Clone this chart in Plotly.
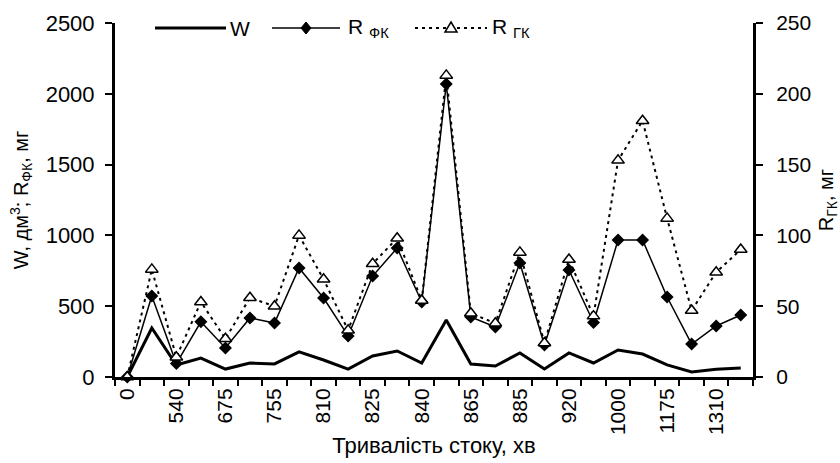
import plotly.graph_objects as go

# Category labels (time, min); only every other one is labelled in the reference
categories = ["0", "480", "540", "610", "675", "720", "755", "785", "810", "815",
              "825", "830", "840", "850", "865", "875", "885", "900", "920", "960",
              "1000", "1090", "1175", "1240", "1310", "1380"]
W_values = [0, 346, 85, 134, 56, 99, 92, 177, 120, 56, 148, 184, 99, 403, 92, 78,
            170, 56, 170, 99, 191, 162, 85, 35, 55, 64]
R_fk_values = [0, 572, 95, 390, 205, 417, 381, 770, 558, 290, 713, 911, 530, 2069,
               424, 353, 805, 226, 756, 385, 967, 967, 565, 233, 360, 438]
R_gk_values = [0, 76, 14, 53, 27, 56, 50, 100, 69, 33, 80, 98, 54, 213, 45, 38,
               88, 24, 83, 43, 153, 181, 112, 47, 74, 90]
series_names = ["W", "R <sub>ФК</sub>", "R <sub>ГК</sub>"]
x_title = "Тривалість стоку, хв"
y_title = "W, дм<sup>3</sup>; R<sub>ФК</sub>, мг"
y2_title = "R<sub>ГК</sub>, мг"

idx = list(range(len(categories)))
FONT = "Liberation Sans, Arial, sans-serif"
W_PX, H_PX = 840, 463
ML, MR, MT, MB = 115, 87, 23, 86
PW, PH = W_PX - ML - MR, H_PX - MT - MB

fig = go.Figure()
fig.add_trace(go.Scatter(x=idx, y=W_values, name=series_names[0], mode="lines",
                         line=dict(color="black", width=3), cliponaxis=False))
fig.add_trace(go.Scatter(x=idx, y=R_fk_values, name=series_names[1], mode="lines+markers",
                         line=dict(color="black", width=1.5),
                         marker=dict(symbol="diamond", size=10, color="black"),
                         cliponaxis=False))
fig.add_trace(go.Scatter(x=idx, y=R_gk_values, name=series_names[2], mode="lines+markers",
                         yaxis="y2",
                         line=dict(color="black", width=2, dash="3px,4px"),
                         marker=dict(symbol="triangle-up", size=11, color="white",
                                     line=dict(color="black", width=1.5)),
                         cliponaxis=False))


# ---- custom legend (drawn in paper coordinates) ----
def px(x):
    return (x - ML) / PW


def py(y):
    return (H_PX - MB - y) / PH


LY = 28
shapes = []
annotations = []
legend_items = [
    # (line x0, line x1, marker, text x, line style)
    (155, 226, None, 228, dict(color="black", width=3)),
    (272, 340, "diamond", 346, dict(color="black", width=1.5)),
    (415, 487, "triangle", 490, dict(color="black", width=2, dash="3px,4px")),
]
for (x0, x1, mk, tx, ln), name in zip(legend_items, series_names):
    shapes.append(dict(type="line", xref="paper", yref="paper",
                       x0=px(x0), x1=px(x1), y0=py(LY), y1=py(LY), line=ln, layer="above"))
    cx = (x0 + x1) / 2
    if mk == "diamond":
        pts = [(cx, LY - 6), (cx + 5, LY), (cx, LY + 6), (cx - 5, LY)]
        path = "M " + " L ".join(f"{px(a)},{py(b)}" for a, b in pts) + " Z"
        shapes.append(dict(type="path", xref="paper", yref="paper", path=path,
                           fillcolor="black", line=dict(color="black", width=1), layer="above"))
    elif mk == "triangle":
        pts = [(cx, LY - 6), (cx + 6, LY + 4), (cx - 6, LY + 4)]
        path = "M " + " L ".join(f"{px(a)},{py(b)}" for a, b in pts) + " Z"
        shapes.append(dict(type="path", xref="paper", yref="paper", path=path,
                           fillcolor="white", line=dict(color="black", width=1.5), layer="above"))
    annotations.append(dict(text=name, xref="paper", yref="paper", x=px(tx), y=py(LY),
                            xanchor="left", yanchor="middle", showarrow=False,
                            font=dict(size=21, color="black", family=FONT)))

fig.update_layout(
    width=W_PX, height=H_PX,
    margin=dict(l=ML, r=MR, t=MT, b=MB),
    paper_bgcolor="white", plot_bgcolor="white",
    font=dict(family=FONT, size=21, color="black"),
    showlegend=False,
    shapes=shapes, annotations=annotations,
    xaxis=dict(
        range=[-0.5, len(categories) - 0.5],
        tickvals=idx[::2], ticktext=categories[::2],
        tickangle=-90, ticks="", showgrid=False, zeroline=False,
        showline=True, linecolor="black", linewidth=3, automargin=False,
        minor=dict(tickvals=[i - 0.5 for i in range(len(categories) + 1)],
                   ticks="outside", ticklen=6, tickwidth=2, tickcolor="black"),
        title=dict(text=x_title, font=dict(size=22), standoff=4),
        tickfont=dict(size=21),
    ),
    yaxis=dict(
        range=[0, 2500], dtick=500, ticks="outside", ticklen=7, tickwidth=2,
        tickcolor="black", showline=True, linecolor="black", linewidth=3,
        showgrid=False, zeroline=False, automargin=False, ticklabelstandoff=6,
        title=dict(text=y_title, font=dict(size=20), standoff=12),
        tickfont=dict(size=22),
    ),
    yaxis2=dict(
        range=[0, 250], dtick=50, overlaying="y", side="right",
        ticks="outside", ticklen=7, tickwidth=2, tickcolor="black",
        showline=True, linecolor="black", linewidth=3, automargin=False,
        showgrid=False, zeroline=False, ticklabelstandoff=9,
        title=dict(text=y2_title, font=dict(size=20), standoff=10),
        tickfont=dict(size=21),
    ),
)

fig.write_html("out.html",
               config={"displayModeBar": False},
               post_script="document.body.style.margin='0px';"
                           "document.body.style.overflow='hidden';")
